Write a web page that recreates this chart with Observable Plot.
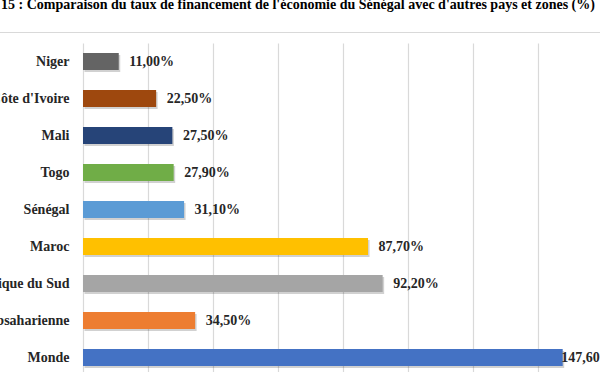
<!DOCTYPE html>
<html><head><meta charset="utf-8">
<script src="https://cdn.jsdelivr.net/npm/d3@7"></script>
<script src="https://cdn.jsdelivr.net/npm/@observablehq/plot@0.6"></script>
<style>
html,body{margin:0;padding:0;overflow:hidden;background:#fff;width:600px;height:372px;position:relative}
#title{font:bold 14px "Liberation Serif",serif;color:#000;white-space:nowrap;position:absolute;top:-3px;left:1px;line-height:16px}
#line{position:absolute;top:32px;left:0;width:600px;height:1px;background:#d9d9d9}
#chart{position:absolute;top:33px;left:0}
</style></head><body>
<div id="title">15 : Comparaison du taux de financement de l'économie du Sénégal avec d'autres pays et zones (%)</div>
<div id="line"></div>
<div id="chart"></div>
<script>
const categories = ["Niger", "Côte d'Ivoire", "Mali", "Togo", "Sénégal", "Maroc", "Afrique du Sud", "Afrique subsaharienne", "Monde"];
const values = [11.0, 22.5, 27.5, 27.9, 31.1, 87.7, 92.2, 34.5, 147.6];
const colors = ["#646464", "#9E480E", "#264478", "#70AD47", "#5B9BD5", "#FFC000", "#A5A5A5", "#ED7D31", "#4472C4"];
const gridTicks = [0, 20, 40, 60, 80, 100, 120, 140];

const data = categories.map((c, i) => ({category: c, value: values[i], color: colors[i]}));
const fmt = v => v.toFixed(2).replace(".", ",") + "%";
const maxInside = 140; // labels beyond this are pulled back inside the plot area, as in the original

const chart = Plot.plot({
  width: 600,
  height: 345,
  marginTop: 10.5,
  marginBottom: 1.5,
  marginLeft: 83,
  marginRight: 0,
  style: {fontFamily: "'Liberation Serif', serif", fontSize: "14px", fontWeight: "bold", color: "#000", background: "#fff"},
  x: {domain: [0, 160], range: [83, 603], axis: null},
  y: {domain: categories, paddingInner: 0.54, paddingOuter: 0.27, label: null},
  marks: [
    Plot.ruleX(gridTicks, {stroke: "#d9d9d9", strokeWidth: 1.2}),
    Plot.barX(data, {x: "value", y: "category", fill: "#000", fillOpacity: 0.18, dx: 1.5, dy: 2}),
    Plot.barX(data, {x: "value", y: "category", fill: "color"}),
    Plot.text(data.filter(d => d.value < maxInside), {x: "value", y: "category", text: d => fmt(d.value), textAnchor: "start", dx: 10, fill: "#262626", fontSize: 14, fontWeight: "bold"}),
    Plot.text(data.filter(d => d.value >= maxInside), {x: "value", y: "category", text: d => fmt(d.value), textAnchor: "start", dx: -2, fill: "#262626", fontSize: 14, fontWeight: "bold"}),
    Plot.axisY({tickSize: 0, tickPadding: 14, fontSize: 14, fontWeight: "bold", fill: "#262626", label: null})
  ]
});
document.getElementById("chart").append(chart);
</script>
</body></html>
